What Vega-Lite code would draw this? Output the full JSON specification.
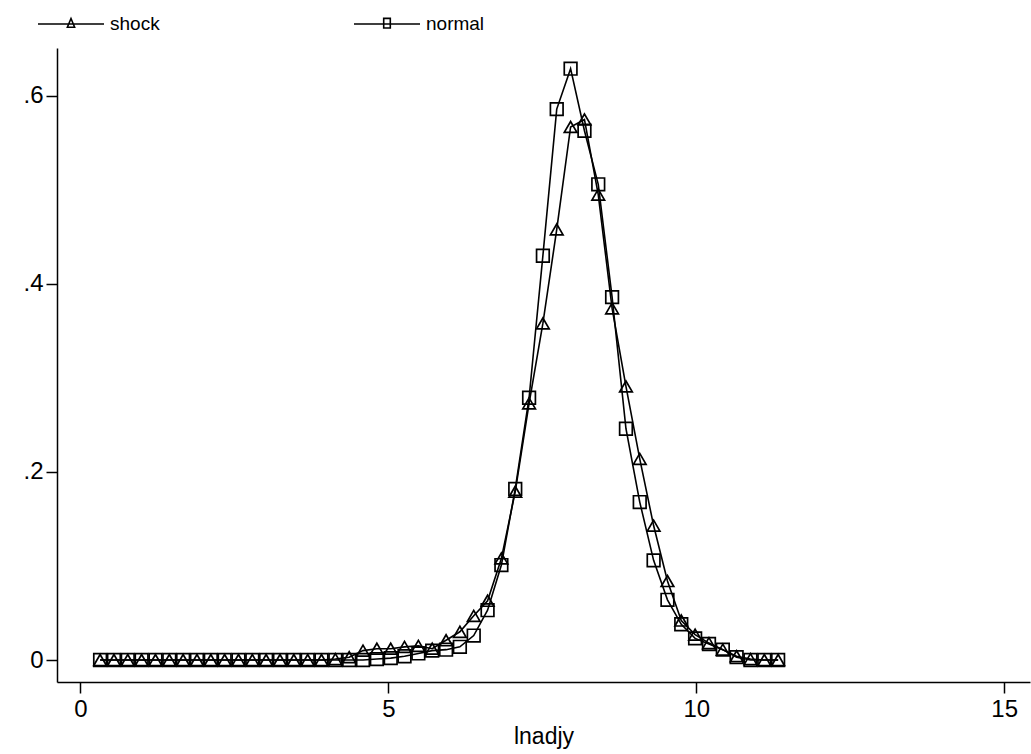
{
  "$schema": "https://vega.github.io/schema/vega-lite/v6.json",
  "width": 973,
  "height": 634,
  "autosize": {"type": "none"},
  "padding": {"left": 57, "top": 48, "right": 1, "bottom": 72},
  "background": "white",
  "config": {
    "view": {"stroke": null},
    "font": "Liberation Sans",
    "axis": {
      "grid": false,
      "domainColor": "black",
      "domainWidth": 1.5,
      "tickColor": "black",
      "tickWidth": 1.5,
      "tickSize": 11,
      "labelColor": "black",
      "labelFont": "Liberation Sans",
      "labelFontSize": 24,
      "titleColor": "black",
      "titleFont": "Liberation Sans",
      "titleFontSize": 23,
      "titleFontWeight": "normal"
    }
  },
  "data": {
    "values": [
      {"lnadjy": 0.320, "shock": 0, "normal": 0},
      {"lnadjy": 0.545, "shock": 0, "normal": 0},
      {"lnadjy": 0.769, "shock": 0, "normal": 0},
      {"lnadjy": 0.994, "shock": 0, "normal": 0},
      {"lnadjy": 1.219, "shock": 0, "normal": 0},
      {"lnadjy": 1.444, "shock": 0, "normal": 0},
      {"lnadjy": 1.668, "shock": 0, "normal": 0},
      {"lnadjy": 1.893, "shock": 0, "normal": 0},
      {"lnadjy": 2.118, "shock": 0, "normal": 0},
      {"lnadjy": 2.342, "shock": 0, "normal": 0},
      {"lnadjy": 2.567, "shock": 0, "normal": 0},
      {"lnadjy": 2.792, "shock": 0, "normal": 0},
      {"lnadjy": 3.016, "shock": 0, "normal": 0},
      {"lnadjy": 3.241, "shock": 0, "normal": 0},
      {"lnadjy": 3.466, "shock": 0, "normal": 0},
      {"lnadjy": 3.691, "shock": 0, "normal": 0},
      {"lnadjy": 3.915, "shock": 0, "normal": 0},
      {"lnadjy": 4.140, "shock": 0.001, "normal": 0},
      {"lnadjy": 4.365, "shock": 0.003, "normal": 0},
      {"lnadjy": 4.589, "shock": 0.010, "normal": 0},
      {"lnadjy": 4.814, "shock": 0.012, "normal": 0.001},
      {"lnadjy": 5.039, "shock": 0.012, "normal": 0.002},
      {"lnadjy": 5.263, "shock": 0.014, "normal": 0.004},
      {"lnadjy": 5.488, "shock": 0.015, "normal": 0.007},
      {"lnadjy": 5.713, "shock": 0.012, "normal": 0.010},
      {"lnadjy": 5.938, "shock": 0.021, "normal": 0.011},
      {"lnadjy": 6.162, "shock": 0.030, "normal": 0.014},
      {"lnadjy": 6.387, "shock": 0.047, "normal": 0.026},
      {"lnadjy": 6.612, "shock": 0.063, "normal": 0.053},
      {"lnadjy": 6.836, "shock": 0.108, "normal": 0.101},
      {"lnadjy": 7.061, "shock": 0.179, "normal": 0.182},
      {"lnadjy": 7.286, "shock": 0.273, "normal": 0.279},
      {"lnadjy": 7.510, "shock": 0.358, "normal": 0.430},
      {"lnadjy": 7.735, "shock": 0.458, "normal": 0.586},
      {"lnadjy": 7.960, "shock": 0.567, "normal": 0.629},
      {"lnadjy": 8.185, "shock": 0.575, "normal": 0.563},
      {"lnadjy": 8.409, "shock": 0.495, "normal": 0.506},
      {"lnadjy": 8.634, "shock": 0.374, "normal": 0.386},
      {"lnadjy": 8.859, "shock": 0.291, "normal": 0.246},
      {"lnadjy": 9.083, "shock": 0.214, "normal": 0.168},
      {"lnadjy": 9.308, "shock": 0.143, "normal": 0.106},
      {"lnadjy": 9.533, "shock": 0.084, "normal": 0.064},
      {"lnadjy": 9.757, "shock": 0.042, "normal": 0.038},
      {"lnadjy": 9.982, "shock": 0.027, "normal": 0.023},
      {"lnadjy": 10.207, "shock": 0.018, "normal": 0.017},
      {"lnadjy": 10.432, "shock": 0.011, "normal": 0.011},
      {"lnadjy": 10.656, "shock": 0.004, "normal": 0.003},
      {"lnadjy": 10.881, "shock": 0.001, "normal": 0},
      {"lnadjy": 11.106, "shock": 0, "normal": 0},
      {"lnadjy": 11.330, "shock": 0, "normal": 0}
    ]
  },
  "transform": [{"fold": ["shock", "normal"], "as": ["series", "density"]}],
  "encoding": {
    "x": {
      "field": "lnadjy",
      "type": "quantitative",
      "scale": {"domain": [-0.38, 15.42], "nice": false, "zero": false},
      "axis": {"values": [0, 5, 10, 15], "title": "lnadjy", "labelPadding": 4, "titlePadding": 4, "labelFlush": false}
    },
    "y": {
      "field": "density",
      "type": "quantitative",
      "scale": {"domain": [-0.0234, 0.651], "nice": false, "zero": false},
      "axis": {
        "values": [0, 0.2, 0.4, 0.6],
        "title": null,
        "labelPadding": 3,
        "labelFlush": false,
        "labelExpr": "datum.value === 0 ? '0' : substring(format(datum.value, '.1f'), 1)"
      }
    }
  },
  "layer": [
    {
      "mark": {"type": "line", "color": "black", "strokeWidth": 1.6},
      "encoding": {"detail": {"field": "series", "type": "nominal"}}
    },
    {
      "mark": {"type": "point", "filled": false, "color": "black", "strokeWidth": 1.7, "size": 160, "opacity": 1},
      "encoding": {
        "shape": {
          "field": "series",
          "type": "nominal",
          "scale": {"domain": ["shock", "normal"], "range": ["triangle-up", "square"]},
          "legend": null
        }
      }
    },
    {
      "transform": [{"filter": "datum.density > 99"}],
      "mark": {"type": "point", "filled": false, "color": "black", "strokeWidth": 1.6, "opacity": 1},
      "encoding": {
        "shape": {
          "field": "series",
          "type": "nominal",
          "scale": {
            "domain": ["shock", "normal"],
            "range": ["M-1,0H1M0,-0.165L0.11,0.1L-0.11,0.1Z", "M-1,0H1M-0.1,-0.17H0.1V0.12H-0.1Z"]
          },
          "legend": {
            "orient": "none",
            "legendX": -20,
            "legendY": -58,
            "direction": "horizontal",
            "title": null,
            "padding": 0,
            "columnPadding": 190,
            "labelFont": "Liberation Sans",
            "labelFontSize": 19,
            "labelColor": "black",
            "labelOffset": 5,
            "symbolSize": 4356,
            "symbolStrokeWidth": 1.6,
            "symbolStrokeColor": "black",
            "symbolFillColor": "transparent"
          }
        }
      }
    }
  ],
  "resolve": {"scale": {"shape": "independent"}, "legend": {"shape": "independent"}}
}
